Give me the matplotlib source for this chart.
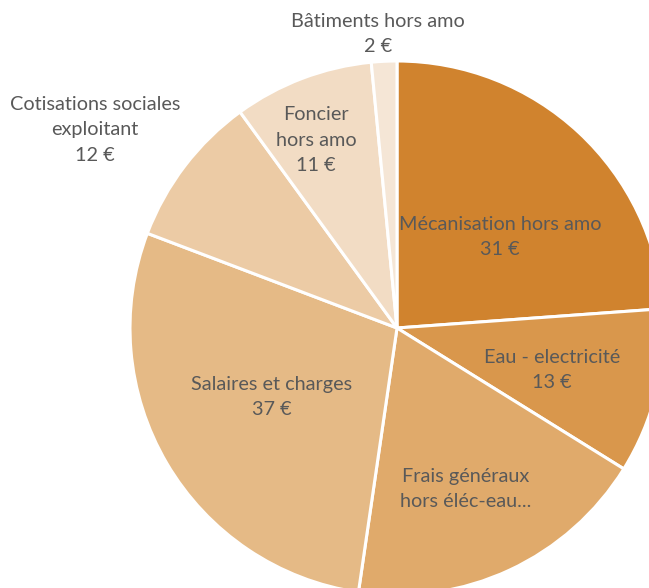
import matplotlib
matplotlib.use("Agg")
import matplotlib.pyplot as plt

# data, clockwise from 12 o'clock
categories = ["Mécanisation hors amo", "Eau - electricité", "Frais généraux\nhors éléc-eau...",
              "Salaires et charges", "Cotisations sociales\nexploitant", "Foncier\nhors amo",
              "Bâtiments hors amo"]
values = [31, 13, 24, 37, 12, 11, 2]
show_value = [True, True, False, True, True, True, True]
colors = ["#D0832E", "#D9974C", "#E0AA6B", "#E5BA86", "#ECCBA5", "#F2DCC4", "#F5E6D6"]

# label anchor (pixels from figure top-left, centre of text block)
label_pos = [(500, 237), (552, 370), (466, 489), (272, 397), (95, 130), (316, 140), (378, 34)]

W, H = 649, 588
cx, cy, R = 397, 328, 267

fig = plt.figure(figsize=(W / 100, H / 100), dpi=100)
ax = fig.add_axes([0, 0, 1, 1])
ax.pie(values, colors=colors, startangle=90, counterclock=False, radius=R,
       wedgeprops=dict(edgecolor="white", linewidth=2.2))
ax.set_xlim(-cx, W - cx)
ax.set_ylim(-(H - cy), cy)
ax.set_aspect("equal")
ax.axis("off")

for cat, v, show, (px, py) in zip(categories, values, show_value, label_pos):
    txt = cat + (f"\n{v} €" if show else "")
    ax.text(px - cx, cy - py, txt, ha="center", va="center", fontsize=14.3,
            color="#595959", family="Lato", linespacing=1.62, multialignment="center")

fig.savefig("out.png", dpi=100)
